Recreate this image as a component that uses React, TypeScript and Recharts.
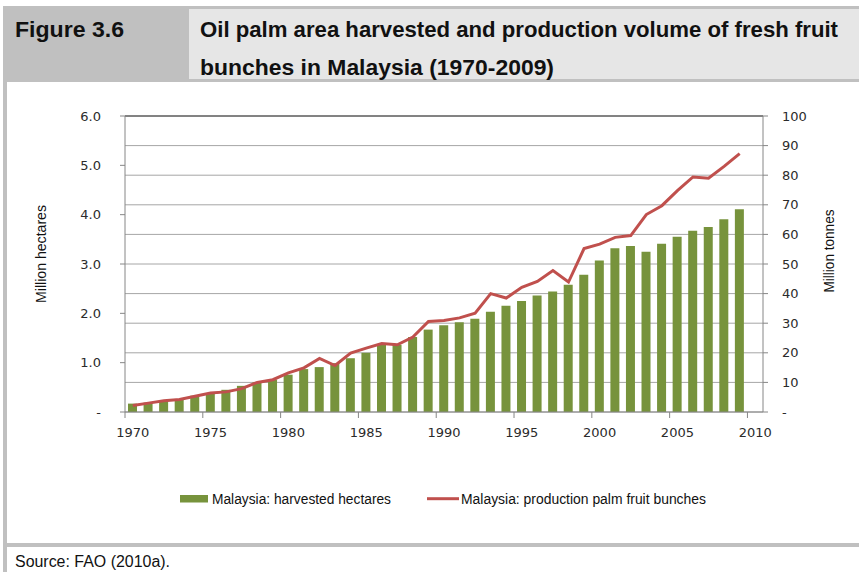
import React from "react";
import {
  Bar,
  CartesianGrid,
  ComposedChart,
  Line,
  ReferenceLine,
  XAxis,
  YAxis
} from "recharts";

const years = [
  1970, 1971, 1972, 1973, 1974, 1975, 1976, 1977, 1978, 1979,
  1980, 1981, 1982, 1983, 1984, 1985, 1986, 1987, 1988, 1989,
  1990, 1991, 1992, 1993, 1994, 1995, 1996, 1997, 1998, 1999,
  2000, 2001, 2002, 2003, 2004, 2005, 2006, 2007, 2008, 2009, 2010
];

// million hectares harvested (2010 slot is empty)
const hectares = [
  0.17, 0.19, 0.22, 0.25, 0.33, 0.385, 0.45, 0.53, 0.6, 0.655,
  0.756, 0.87, 0.91, 0.99, 1.09, 1.2, 1.36, 1.36, 1.52, 1.67,
  1.76, 1.82, 1.89, 2.03, 2.155, 2.25, 2.36, 2.445, 2.58, 2.78,
  3.07, 3.32, 3.365, 3.25, 3.41, 3.55, 3.675, 3.75, 3.905, 4.11, null
];

// million tonnes of fresh fruit bunches
const production = [
  2.2, 3.0, 3.8, 4.2, 5.3, 6.4, 6.8, 7.9, 10.0, 10.9,
  13.2, 14.9, 18.1, 15.7, 19.9, 21.6, 23.1, 22.7, 25.3, 30.6,
  30.9, 31.8, 33.4, 40.0, 38.5, 42.1, 44.1, 47.8, 43.9, 55.2,
  56.7, 59.0, 59.6, 66.7, 69.7, 74.8, 79.4, 79.0, 83.0, 87.3, null
];

const leftTicks = [0, 1, 2, 3, 4, 5, 6];
const rightTicks = [0, 10, 20, 30, 40, 50, 60, 70, 80, 90, 100];

const data = years.map((year, i) => ({
  year,
  hectares: hectares[i],
  production: production[i]
}));

const W = 859;
const H = 572;
const margin = { top: 116, right: 36, bottom: 130, left: 60 };
const LEFT_AXIS_W = 65;
const RIGHT_AXIS_W = 60;
const X_AXIS_H = 30;
const band = (W - margin.left - margin.right - LEFT_AXIS_W - RIGHT_AXIS_W) / years.length;

const GREEN = "#77933c";
const RED = "#c0504d";
const AXIS = "#868686";
const GRID = "#a6a6a6";
const TICK_FONT = "'DejaVu Sans', Verdana, sans-serif";
const TEXT_FONT = "'Liberation Sans', Arial, sans-serif";
const NARROW = "'Liberation Sans Narrow', 'Liberation Sans', Arial, sans-serif";

function YearTick(props: any) {
  const { x, y, payload } = props;
  const lx = x - band / 2;
  return (
    <g>
      <line x1={lx} x2={lx} y1={y - 16} y2={y - 10} stroke={AXIS} />
      <text x={x} y={y} dy="0.71em" textAnchor="middle" fontSize={13} fontFamily={TICK_FONT} fill="#2b2b2b">
        {payload.value}
      </text>
    </g>
  );
}

function Frame() {
  return (
    <svg width={W} height={H} style={{ position: "absolute", left: 0, top: 0 }}>
      <rect x={3} y={6} width={W - 3} height={76} fill="#c0c0c0" />
      <rect x={189} y={9} width={W - 189} height={70} fill="#e6e6e6" />
      <rect x={3} y={82} width={4} height={H - 82} fill="#c0c0c0" />
      <rect x={3} y={543} width={W - 3} height={4} fill="#c0c0c0" />
      <g fontFamily={NARROW} fontWeight="bold" fontSize={22} fill="#111">
        <text x={15} y={37} textLength={109} lengthAdjust="spacingAndGlyphs">Figure 3.6</text>
        <text x={200} y={37} textLength={638} lengthAdjust="spacingAndGlyphs">
          Oil palm area harvested and production volume of fresh fruit
        </text>
        <text x={200} y={75} textLength={354} lengthAdjust="spacingAndGlyphs">
          bunches in Malaysia (1970-2009)
        </text>
      </g>
      <text x={15} y={567} fontFamily={TEXT_FONT} fontSize={16} fill="#111" textLength={155} lengthAdjust="spacingAndGlyphs">
        Source: FAO (2010a).
      </text>
    </svg>
  );
}

function Overlay() {
  return (
    <svg width={W} height={H} style={{ position: "absolute", left: 0, top: 0, pointerEvents: "none" }}>
      <g fontFamily={TEXT_FONT} fontSize={14} fill="#111">
        <text transform="translate(46,254) rotate(-90)" textAnchor="middle" textLength={98} lengthAdjust="spacingAndGlyphs">
          Million hectares
        </text>
        <text transform="translate(834,251) rotate(-90)" textAnchor="middle" textLength={83} lengthAdjust="spacingAndGlyphs">
          Million tonnes
        </text>
      </g>
      <g fontFamily={TEXT_FONT} fontSize={14} fill="#111">
        <rect x={180} y={495} width={28} height={7.5} fill={GREEN} />
        <text x={212} y={503.5} textLength={179} lengthAdjust="spacingAndGlyphs">
          Malaysia: harvested hectares
        </text>
        <line x1={427} x2={459} y1={498.7} y2={498.7} stroke={RED} strokeWidth={3} />
        <text x={461} y={503.5} textLength={245} lengthAdjust="spacingAndGlyphs">
          Malaysia: production palm fruit bunches
        </text>
      </g>
    </svg>
  );
}

export default function App() {
  return (
    <div style={{ position: "absolute", left: 0, top: 0, width: W, height: H, background: "#fff" }}>
      <Frame />
      <div style={{ position: "absolute", left: 0, top: 0 }}>
        <ComposedChart width={W} height={H} data={data} margin={margin} barSize={9}>
          <CartesianGrid yAxisId="right" vertical={false} stroke={GRID} />
          <XAxis
            dataKey="year"
            interval={4}
            height={X_AXIS_H}
            tickLine={false}
            tickSize={6}
            tickMargin={10}
            axisLine={{ stroke: AXIS }}
            tick={<YearTick />}
          />
          <YAxis
            yAxisId="left"
            orientation="left"
            width={LEFT_AXIS_W}
            domain={[0, 6]}
            ticks={leftTicks}
            tickFormatter={(v: number) => (v === 0 ? "-" : v.toFixed(1))}
            tickSize={5}
            tickMargin={19}
            tickLine={{ stroke: AXIS }}
            axisLine={{ stroke: AXIS }}
            tick={{ fontSize: 13, fontFamily: TICK_FONT, fill: "#2b2b2b" }}
          />
          <YAxis
            yAxisId="right"
            orientation="right"
            width={RIGHT_AXIS_W}
            domain={[0, 100]}
            ticks={rightTicks}
            tickFormatter={(v: number) => (v === 0 ? "-" : String(v))}
            tickSize={5}
            tickMargin={14}
            tickLine={{ stroke: AXIS }}
            axisLine={{ stroke: AXIS }}
            tick={{ fontSize: 13, fontFamily: TICK_FONT, fill: "#2b2b2b" }}
          />
          <ReferenceLine yAxisId="right" y={100} stroke="#333" />
          <Bar yAxisId="left" dataKey="hectares" fill={GREEN} isAnimationActive={false} />
          <Line
            yAxisId="right"
            dataKey="production"
            type="linear"
            stroke={RED}
            strokeWidth={3}
            dot={false}
            isAnimationActive={false}
          />
        </ComposedChart>
      </div>
      <Overlay />
    </div>
  );
}
